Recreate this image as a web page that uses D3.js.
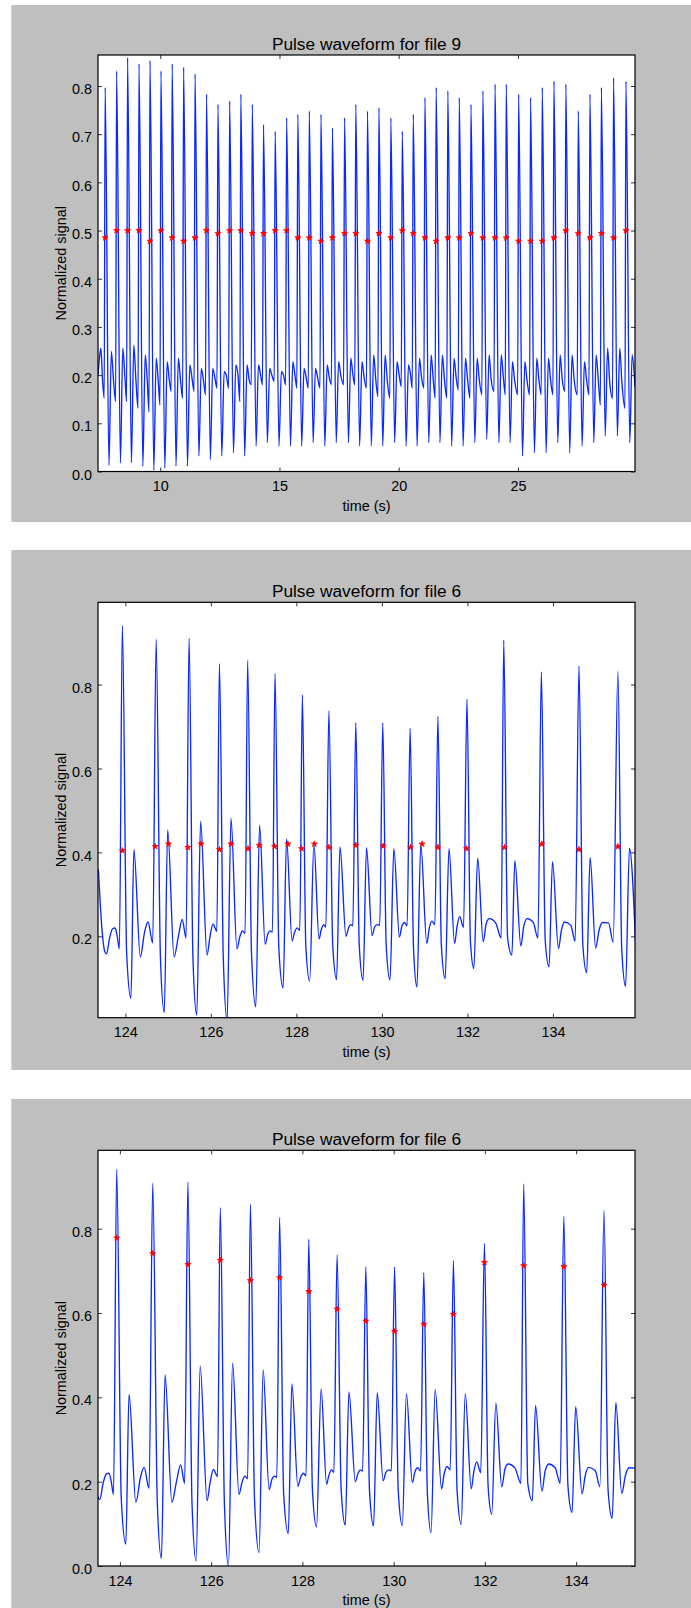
<!DOCTYPE html>
<html><head><meta charset="utf-8">
<script src="https://cdn.jsdelivr.net/npm/d3@7"></script>
<style>
body{margin:0;background:#fff}
svg{display:block}
text{font-family:"Liberation Sans",Arial,Helvetica,sans-serif;fill:#000}
</style>
</head><body>
<svg id="c" width="691" height="1608"></svg>
<script>
// ---------- File 9 (panel 1) : per-beat features ----------
const p1StartT = [7.39, 7.45, 7.51, 7.58];
const p1StartV = [0.200, 0.235, 0.256, 0.190];
const p1PeakT = [7.69, 8.17, 8.63, 9.11, 9.57, 10.03, 10.50, 10.98, 11.46, 11.94, 12.42, 12.91, 13.38, 13.86, 14.33, 14.82, 15.30, 15.77, 16.25, 16.74, 17.22, 17.73, 18.20, 18.69, 19.17, 19.67, 20.15, 20.61, 21.10, 21.57, 22.06, 22.54, 23.03, 23.53, 24.04, 24.51, 25.03, 25.53, 26.02, 26.51, 27.01, 27.53, 28.02, 28.50, 29.01, 29.53];
const p1PeakV = [0.797, 0.831, 0.859, 0.846, 0.853, 0.831, 0.846, 0.839, 0.825, 0.783, 0.762, 0.769, 0.783, 0.762, 0.720, 0.706, 0.734, 0.741, 0.748, 0.741, 0.713, 0.734, 0.762, 0.748, 0.755, 0.734, 0.706, 0.741, 0.776, 0.797, 0.790, 0.776, 0.762, 0.790, 0.804, 0.804, 0.783, 0.776, 0.797, 0.810, 0.804, 0.748, 0.783, 0.797, 0.817, 0.810];
const p1DipT = [7.65, 8.13, 8.59, 9.07, 9.53, 9.99, 10.46, 10.94, 11.42, 11.90, 12.38, 12.87, 13.34, 13.82, 14.29, 14.78, 15.26, 15.73, 16.21, 16.70, 17.18, 17.69, 18.16, 18.65, 19.13, 19.63, 20.11, 20.57, 21.06, 21.53, 22.02, 22.50, 22.99, 23.49, 24.00, 24.47, 24.99, 25.49, 25.98, 26.47, 26.97, 27.49, 27.98, 28.46, 28.97, 29.49];
const p1DipV = [0.152, 0.145, 0.145, 0.131, 0.124, 0.138, 0.166, 0.152, 0.166, 0.159, 0.173, 0.173, 0.145, 0.180, 0.180, 0.187, 0.180, 0.173, 0.173, 0.173, 0.180, 0.180, 0.180, 0.173, 0.155, 0.152, 0.176, 0.173, 0.173, 0.152, 0.152, 0.169, 0.152, 0.159, 0.166, 0.159, 0.159, 0.159, 0.159, 0.159, 0.166, 0.159, 0.159, 0.138, 0.152, 0.131];
const p1TroughT = [7.85, 8.33, 8.79, 9.27, 9.73, 10.19, 10.66, 11.14, 11.62, 12.10, 12.58, 13.07, 13.54, 14.02, 14.49, 14.98, 15.46, 15.93, 16.41, 16.90, 17.38, 17.89, 18.36, 18.85, 19.33, 19.83, 20.31, 20.77, 21.26, 21.73, 22.22, 22.70, 23.19, 23.69, 24.20, 24.67, 25.19, 25.69, 26.18, 26.67, 27.17, 27.69, 28.18, 28.66, 29.17, 29.69];
const p1TroughV = [0.013, 0.018, 0.018, 0.011, 0.003, 0.007, 0.011, 0.011, 0.032, 0.025, 0.032, 0.039, 0.032, 0.053, 0.060, 0.053, 0.053, 0.053, 0.060, 0.053, 0.060, 0.060, 0.053, 0.053, 0.053, 0.060, 0.053, 0.053, 0.060, 0.060, 0.053, 0.053, 0.060, 0.067, 0.060, 0.060, 0.032, 0.039, 0.039, 0.060, 0.039, 0.053, 0.060, 0.074, 0.074, 0.060];
const p1SecT = [7.95, 8.43, 8.89, 9.37, 9.83, 10.29, 10.76, 11.24, 11.72, 12.20, 12.68, 13.17, 13.64, 14.12, 14.59, 15.08, 15.56, 16.03, 16.51, 17.00, 17.48, 17.99, 18.46, 18.95, 19.43, 19.93, 20.41, 20.87, 21.36, 21.83, 22.32, 22.80, 23.29, 23.79, 24.30, 24.77, 25.29, 25.79, 26.28, 26.77, 27.27, 27.79, 28.28, 28.76, 29.27, 29.79];
const p1SecV = [0.249, 0.256, 0.262, 0.242, 0.235, 0.228, 0.235, 0.221, 0.214, 0.214, 0.207, 0.221, 0.221, 0.221, 0.214, 0.207, 0.228, 0.214, 0.214, 0.221, 0.228, 0.235, 0.228, 0.242, 0.242, 0.228, 0.221, 0.235, 0.242, 0.242, 0.235, 0.235, 0.235, 0.242, 0.242, 0.228, 0.228, 0.235, 0.235, 0.242, 0.242, 0.228, 0.242, 0.256, 0.256, 0.242];
const p1NotchT = [8.04, 8.52, 8.98, 9.46, 9.92, 10.38, 10.85, 11.33, 11.81, 12.29, 12.77, 13.26, 13.73, 14.21, 14.68, 15.17, 15.65, 16.12, 16.60, 17.09, 17.57, 18.08, 18.55, 19.04, 19.52, 20.02, 20.50, 20.96, 21.45, 21.92, 22.41, 22.89, 23.38, 23.88, 24.39, 24.86, 25.38, 25.88, 26.37, 26.86, 27.36, 27.88, 28.37, 28.85, 29.36];
const p1NotchV = [0.19, 0.195, 0.19, 0.185, 0.185, 0.19, 0.19, 0.195, 0.19, 0.195, 0.2, 0.2, 0.19, 0.2, 0.2, 0.2, 0.2, 0.195, 0.195, 0.195, 0.2, 0.2, 0.195, 0.19, 0.19, 0.2, 0.2, 0.195, 0.19, 0.19, 0.195, 0.19, 0.19, 0.19, 0.195, 0.19, 0.19, 0.19, 0.19, 0.19, 0.19, 0.19, 0.19, 0.185, 0.185];
const p1EndT = [29.91];
const p1EndV = [0.176];
const p1MarkT = p1PeakT;
const p1MarkV = [0.485, 0.5, 0.5, 0.5, 0.478, 0.5, 0.485, 0.478, 0.485, 0.5, 0.494, 0.5, 0.5, 0.494, 0.494, 0.5, 0.5, 0.485, 0.485, 0.478, 0.485, 0.494, 0.494, 0.478, 0.494, 0.485, 0.5, 0.494, 0.485, 0.478, 0.485, 0.485, 0.494, 0.485, 0.485, 0.485, 0.478, 0.478, 0.478, 0.485, 0.5, 0.494, 0.485, 0.494, 0.485, 0.5];

// ---------- File 6 (panels 2 and 3) : waveform keypoints ----------
const f6T = [123.37, 123.45, 123.52, 123.56, 123.63, 123.70, 123.76, 123.81, 123.86, 123.93,
  124.03, 124.13, 124.20, 124.35, 124.45, 124.53, 124.64, 124.72,
  124.82, 124.91, 124.99, 125.14, 125.24, 125.33, 125.42, 125.49,
  125.58, 125.67, 125.76, 125.91, 125.98, 126.05, 126.14, 126.20,
  126.29, 126.38, 126.47, 126.61, 126.68, 126.74, 126.80, 126.86,
  126.95, 127.05, 127.14, 127.27, 127.33, 127.39, 127.44, 127.50,
  127.59, 127.69, 127.77, 127.90, 127.96, 128.02, 128.08, 128.14,
  128.22, 128.31, 128.41, 128.53, 128.58, 128.64, 128.69, 128.76,
  128.85, 128.94, 129.02, 129.16, 129.22, 129.27, 129.32, 129.39,
  129.47, 129.56, 129.64, 129.77, 129.83, 129.89, 129.95, 130.02,
  130.10, 130.19, 130.28, 130.41, 130.47, 130.53, 130.59, 130.66,
  130.74, 130.82, 130.91, 131.05, 131.11, 131.17, 131.24, 131.31,
  131.39, 131.48, 131.57, 131.70, 131.76, 131.82, 131.91, 131.99,
  132.07, 132.15, 132.24, 132.37, 132.44, 132.51, 132.66, 132.79, 132.85,
  132.94, 133.04, 133.11, 133.25, 133.32, 133.40, 133.54, 133.65, 133.73,
  133.82, 133.91, 133.99, 134.13, 134.20, 134.27, 134.42, 134.52, 134.61,
  134.70, 134.79, 134.87, 135.00, 135.08, 135.16, 135.30, 135.41, 135.52,
  135.61, 135.70, 135.79, 135.94];
const f6V = [0.359, 0.220, 0.163, 0.158, 0.195, 0.218, 0.220, 0.200, 0.170, 0.941,
  0.160, 0.052, 0.407, 0.151, 0.210, 0.234, 0.184, 0.908,
  0.150, 0.018, 0.453, 0.151, 0.200, 0.240, 0.196, 0.911,
  0.150, 0.012, 0.474, 0.155, 0.200, 0.229, 0.212, 0.850,
  0.150, 0.000, 0.481, 0.170, 0.200, 0.213, 0.207, 0.858,
  0.160, 0.032, 0.465, 0.181, 0.205, 0.213, 0.210, 0.827,
  0.170, 0.077, 0.432, 0.189, 0.210, 0.220, 0.214, 0.775,
  0.180, 0.093, 0.420, 0.194, 0.215, 0.228, 0.222, 0.738,
  0.180, 0.097, 0.413, 0.200, 0.220, 0.228, 0.225, 0.709,
  0.180, 0.095, 0.411, 0.202, 0.222, 0.228, 0.226, 0.709,
  0.180, 0.096, 0.409, 0.198, 0.225, 0.233, 0.225, 0.696,
  0.170, 0.079, 0.419, 0.183, 0.220, 0.236, 0.228, 0.724,
  0.180, 0.099, 0.409, 0.183, 0.225, 0.247, 0.221, 0.765,
  0.190, 0.123, 0.387, 0.187, 0.230, 0.242, 0.232, 0.196, 0.906,
  0.196, 0.155, 0.381, 0.177, 0.225, 0.242, 0.233, 0.196, 0.830,
  0.190, 0.127, 0.378, 0.171, 0.215, 0.234, 0.226, 0.188, 0.844,
  0.180, 0.113, 0.388, 0.172, 0.215, 0.233, 0.232, 0.186, 0.832,
  0.170, 0.081, 0.410, 0.166];
const p2MarkT = [123.93, 124.70, 125.01, 125.46, 125.77, 126.20, 126.47, 126.87, 127.13, 127.49, 127.80, 128.12, 128.42, 128.76, 129.39, 130.03, 130.67, 130.94, 131.31, 131.98, 132.87, 133.74, 134.61, 135.52];
const p2MarkV = [0.404, 0.414, 0.420, 0.412, 0.420, 0.407, 0.420, 0.409, 0.417, 0.414, 0.420, 0.409, 0.420, 0.412, 0.417, 0.415, 0.412, 0.420, 0.412, 0.409, 0.412, 0.420, 0.407, 0.414];
const p3MarkT = [123.93, 124.72, 125.49, 126.20, 126.86, 127.50, 128.14, 128.76, 129.39, 130.02, 130.66, 131.31, 131.99, 132.85, 133.73, 134.61];
const p3MarkV = [0.778, 0.741, 0.715, 0.725, 0.677, 0.684, 0.651, 0.609, 0.581, 0.556, 0.573, 0.597, 0.720, 0.712, 0.710, 0.666];

// ---------- tick labels ----------
const p1XTicks = [10, 15, 20, 25];
const p1YTicks = [0.0, 0.1, 0.2, 0.3, 0.4, 0.5, 0.6, 0.7, 0.8];
const f6XTicks = [124, 126, 128, 130, 132, 134];
const p2YTicks = [0.2, 0.4, 0.6, 0.8];
const p3YTicks = [0.0, 0.2, 0.4, 0.6, 0.8];
const titles = ["Pulse waveform for file 9", "Pulse waveform for file 6", "Pulse waveform for file 6"];
const xLabel = "time (s)";
const yLabel = "Normalized signal";

// ---------- build panel-1 series ----------
function zipPts(ts, vs) { return ts.map((t, i) => [t, vs[i]]); }
const p1Pts = [].concat(
  zipPts(p1StartT, p1StartV), zipPts(p1DipT, p1DipV), zipPts(p1PeakT, p1PeakV),
  zipPts(p1TroughT, p1TroughV), zipPts(p1SecT, p1SecV), zipPts(p1NotchT, p1NotchV),
  zipPts(p1EndT, p1EndV)).sort((a, b) => a[0] - b[0]);
const f6Pts = zipPts(f6T, f6V);

const svg = d3.select("#c");
const FONT_TICK = 14.4, FONT_LABEL = 14.4, FONT_TITLE = 17.3;

const panels = [
  {bg: [11.3, 5, 691, 522], plot: {l: 98, r: 635, t: 55, b: 471.5}, xd: [7.39, 29.91], yd: [0, 0.8643],
   xt: p1XTicks, yt: p1YTicks, title: titles[0], pts: p1Pts, mk: zipPts(p1MarkT, p1MarkV)},
  {bg: [11.3, 550, 691, 1070], plot: {l: 98, r: 635, t: 602.3, b: 1017.7}, xd: [123.36, 135.92], yd: [0.006, 0.996],
   xt: f6XTicks, yt: p2YTicks, title: titles[1], pts: f6Pts, mk: zipPts(p2MarkT, p2MarkV)},
  {bg: [11.3, 1099, 691, 1608], plot: {l: 98, r: 635, t: 1150.3, b: 1566}, xd: [123.52, 135.29], yd: [0, 0.986],
   xt: f6XTicks, yt: p3YTicks, title: titles[2], pts: f6Pts, mk: zipPts(p3MarkT, p3MarkV)}
];

panels.forEach((p, i) => {
  const P = p.plot;
  svg.append("rect").attr("x", p.bg[0]).attr("y", p.bg[1])
    .attr("width", p.bg[2] - p.bg[0]).attr("height", p.bg[3] - p.bg[1]).attr("fill", "#bfbfbf");
  svg.append("rect").attr("x", P.l).attr("y", P.t).attr("width", P.r - P.l).attr("height", P.b - P.t).attr("fill", "#fff");

  const x = d3.scaleLinear().domain(p.xd).range([P.l, P.r]);
  const y = d3.scaleLinear().domain(p.yd).range([P.b, P.t]);

  const cid = "clip" + i;
  svg.append("clipPath").attr("id", cid).append("rect")
    .attr("x", P.l).attr("y", P.t).attr("width", P.r - P.l).attr("height", P.b - P.t);
  const g = svg.append("g").attr("clip-path", `url(#${cid})`);

  const line = d3.line().x(d => x(d[0])).y(d => y(d[1])).curve(d3.curveMonotoneX);
  g.append("path").datum(p.pts).attr("d", line)
    .attr("fill", "none").attr("stroke", "#0a28ff").attr("stroke-width", 1.35).attr("stroke-linejoin", "round");

  g.selectAll(".mk").data(p.mk).enter().append("path")
    .attr("transform", d => `translate(${x(d[0])},${y(d[1])})`)
    .attr("d", d3.symbol().type(d3.symbolStar).size(11))
    .attr("fill", "#ff0000").attr("stroke", "#ff0000").attr("stroke-width", 0.8);

  // axes (inward ticks on all four sides)
  const fmtY = d3.format(".1f");
  const ab = svg.append("g").attr("transform", `translate(0,${P.b})`)
    .call(d3.axisBottom(x).tickValues(p.xt).tickSizeInner(-4).tickSizeOuter(0).tickPadding(9.5).tickFormat(d3.format("d")));
  const at = svg.append("g").attr("transform", `translate(0,${P.t})`)
    .call(d3.axisTop(x).tickValues(p.xt).tickSizeInner(-4).tickSizeOuter(0).tickFormat(""));
  const al = svg.append("g").attr("transform", `translate(${P.l},0)`)
    .call(d3.axisLeft(y).tickValues(p.yt).tickSizeInner(-4).tickSizeOuter(0).tickPadding(6).tickFormat(fmtY));
  const ar = svg.append("g").attr("transform", `translate(${P.r},0)`)
    .call(d3.axisRight(y).tickValues(p.yt).tickSizeInner(-4).tickSizeOuter(0).tickFormat(""));
  [ab, at, al, ar].forEach(a => {
    a.select(".domain").remove();
    a.selectAll(".tick line").attr("stroke", "#333").attr("stroke-width", 1);
    a.selectAll("text").attr("font-family", "'Liberation Sans', Arial, sans-serif")
      .attr("font-size", FONT_TICK).attr("fill", "#000");
  });
  al.selectAll("text").attr("dy", "0.53em");

  svg.append("rect").attr("x", P.l).attr("y", P.t).attr("width", P.r - P.l).attr("height", P.b - P.t)
    .attr("fill", "none").attr("stroke", "#000").attr("stroke-width", 1.2);

  const cx = (P.l + P.r) / 2;
  svg.append("text").attr("x", cx).attr("y", P.t - 5).attr("text-anchor", "middle")
    .attr("font-size", FONT_TITLE).text(p.title);
  svg.append("text").attr("x", cx).attr("y", P.b + 39).attr("text-anchor", "middle")
    .attr("font-size", FONT_LABEL).text(xLabel);
  svg.append("text").attr("transform", `translate(65.5,${(P.t + P.b) / 2}) rotate(-90)`)
    .attr("text-anchor", "middle").attr("font-size", FONT_LABEL).text(yLabel);
});
</script>
</body></html>
